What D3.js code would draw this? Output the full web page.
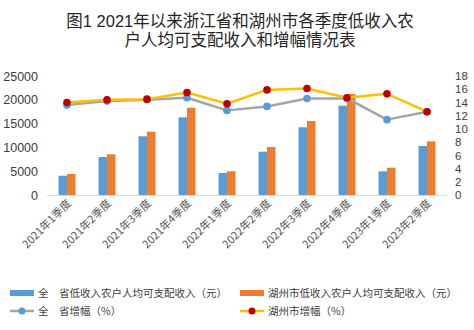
<!DOCTYPE html>
<html><head><meta charset="utf-8">
<script src="https://cdn.jsdelivr.net/npm/d3@7/dist/d3.min.js"></script>
<style>html,body{margin:0;padding:0;background:#fff;}svg{display:block;}</style>
</head><body>
<svg id="chart" width="474" height="330"></svg>
<script>
const categories = ["2021年1季度","2021年2季度","2021年3季度","2021年4季度","2022年1季度","2022年2季度","2022年3季度","2022年4季度","2023年1季度","2023年2季度"];
const provinceIncome = [4050, 7980, 12330, 16320, 4620, 9100, 14220, 18760, 4980, 10290];
const huzhouIncome   = [4410, 8550, 13300, 18340, 4980, 10080, 15540, 21210, 5740, 11270];
const provinceGrowth = [13.6, 14.2, 14.4, 14.7, 12.8, 13.4, 14.6, 14.6, 11.4, 12.6];
const huzhouGrowth   = [14.0, 14.4, 14.5, 15.5, 13.8, 15.9, 16.1, 14.7, 15.3, 12.6];
const leftTicks = [0, 5000, 10000, 15000, 20000, 25000];
const rightTicks = [0, 2, 4, 6, 8, 10, 12, 14, 16, 18];
const titleLines = ["图1 2021年以来浙江省和湖州市各季度低收入农", "户人均可支配收入和增幅情况表"];
const legendLabels = ["全\u3000省低收入农户人均可支配收入（元）", "湖州市低收入农户人均可支配收入（元）", "全\u3000省增幅（%）", "湖州市增幅（%）"];

const colors = {blue:"#5b9bd5", orange:"#ed7d31", gray:"#a5a5a5", yellow:"#ffc000", red:"#c00000"};
const svg = d3.select("#chart");
const plot = {left:47, right:447, top:76, bottom:195};

// title
svg.append("g").selectAll("text").data(titleLines).join("text")
  .attr("x", 240).attr("y", (d,i)=>27 + i*19)
  .attr("text-anchor","middle")
  .attr("font-family","'Liberation Sans','Noto Sans CJK SC',sans-serif")
  .attr("font-size", 16.5).attr("fill","#262626")
  .text(d=>d);

const x = d3.scaleBand().domain(categories).range([plot.left, plot.right]).padding(0);
const yL = d3.scaleLinear().domain([0, 25000]).range([plot.bottom, plot.top]);
const yR = d3.scaleLinear().domain([0, 18]).range([plot.bottom, plot.top]);
const cx = c => x(c) + x.bandwidth()/2;
const bw = 8.5;

// left axis
const axL = d3.axisLeft(yL).tickValues(leftTicks).tickFormat(d3.format("d")).tickSize(0).tickPadding(9);
const gL = svg.append("g").attr("transform",`translate(${plot.left},0)`).call(axL);
gL.select(".domain").remove();
gL.selectAll("text").attr("font-family","'Liberation Sans',Arial,sans-serif").attr("font-size",12.5).attr("fill","#404040");

// right axis
const axR = d3.axisRight(yR).tickValues(rightTicks).tickSize(0).tickPadding(8);
const gR = svg.append("g").attr("transform",`translate(${plot.right},0)`).call(axR);
gR.select(".domain").remove();
gR.selectAll("text").attr("font-family","'Liberation Sans',Arial,sans-serif").attr("font-size",11.5).attr("fill","#404040");

// baseline
svg.append("line").attr("x1",plot.left).attr("x2",plot.right)
  .attr("y1",plot.bottom+0.5).attr("y2",plot.bottom+0.5)
  .attr("stroke","#d9d9d9").attr("stroke-width",1);

// bars
svg.append("g").selectAll("rect").data(categories).join("rect")
  .attr("x", (c)=>cx(c)-bw).attr("width", bw)
  .attr("y", (c,i)=>yL(provinceIncome[i])).attr("height",(c,i)=>plot.bottom - yL(provinceIncome[i]))
  .attr("fill", colors.blue);
svg.append("g").selectAll("rect").data(categories).join("rect")
  .attr("x", (c)=>cx(c)).attr("width", bw)
  .attr("y", (c,i)=>yL(huzhouIncome[i])).attr("height",(c,i)=>plot.bottom - yL(huzhouIncome[i]))
  .attr("fill", colors.orange);

// x labels
svg.append("g").selectAll("text").data(categories).join("text")
  .attr("transform", c=>`translate(${cx(c)+5},${plot.bottom+9}) rotate(-45)`)
  .attr("text-anchor","end")
  .attr("font-family","'Noto Sans CJK SC','Noto Sans',sans-serif")
  .attr("font-size",11).attr("fill","#595959")
  .text(c=>c);

// lines
const lineGen = (arr)=>d3.line().x((d,i)=>cx(categories[i])).y(d=>yR(d))(arr);
svg.append("path").attr("d", lineGen(provinceGrowth)).attr("fill","none")
  .attr("stroke",colors.gray).attr("stroke-width",2.5).attr("stroke-linejoin","round");
svg.append("g").selectAll("circle").data(provinceGrowth).join("circle")
  .attr("cx",(d,i)=>cx(categories[i])).attr("cy",d=>yR(d)).attr("r",3.8)
  .attr("fill",colors.blue);
svg.append("path").attr("d", lineGen(huzhouGrowth)).attr("fill","none")
  .attr("stroke",colors.yellow).attr("stroke-width",2.5).attr("stroke-linejoin","round");
svg.append("g").selectAll("circle").data(huzhouGrowth).join("circle")
  .attr("cx",(d,i)=>cx(categories[i])).attr("cy",d=>yR(d)).attr("r",3.8)
  .attr("fill",colors.red);

// legend
const lg = svg.append("g").attr("font-family","'Noto Sans CJK SC','Noto Sans',sans-serif").attr("font-size",10.5).attr("fill","#404040");
const legendItems = [
  {type:"bar", color:colors.blue, x:10, y:293, label:legendLabels[0]},
  {type:"bar", color:colors.orange, x:240, y:293, label:legendLabels[1]},
  {type:"line", color:colors.gray, marker:colors.blue, x:10, y:311, label:legendLabels[2]},
  {type:"line", color:colors.yellow, marker:colors.red, x:240, y:311, label:legendLabels[3]}
];
legendItems.forEach(it=>{
  if(it.type==="bar"){
    lg.append("rect").attr("x",it.x).attr("y",it.y-3).attr("width",24).attr("height",6).attr("fill",it.color);
  } else {
    lg.append("line").attr("x1",it.x).attr("x2",it.x+24).attr("y1",it.y).attr("y2",it.y)
      .attr("stroke",it.color).attr("stroke-width",2.5);
    lg.append("circle").attr("cx",it.x+12).attr("cy",it.y).attr("r",3.5).attr("fill",it.marker);
  }
  lg.append("text").attr("x",it.x+28).attr("y",it.y+4).text(it.label);
});
</script>
</body></html>
